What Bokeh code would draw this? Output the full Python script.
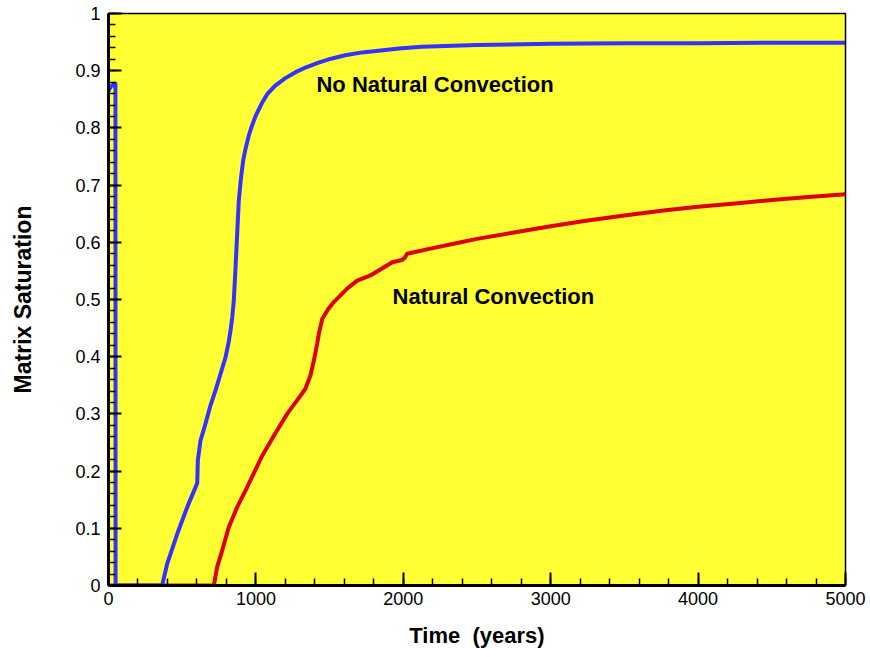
from bokeh.plotting import figure
from bokeh.models import Range1d, FixedTicker, CustomJSTickFormatter, Label
from bokeh.embed import file_html
from bokeh.resources import INLINE

# ---- data ----
blue_time = [0, 15, 40, 47, 48, 364, 398, 466, 534, 602, 606, 624, 658, 692, 726, 760,
             794, 815, 828, 840, 850, 862, 873, 884, 900, 915, 931, 950, 972, 1000, 1040,
             1080, 1131, 1200, 1266, 1340, 1425, 1510, 1606, 1720, 1832, 1970, 2125, 2500,
             3000, 3500, 4000, 4500, 5000]
blue_sat = [0.865, 0.872, 0.877, 0.877, 0.0, 0.0, 0.038, 0.090, 0.137, 0.179, 0.219, 0.253,
            0.283, 0.315, 0.341, 0.370, 0.399, 0.425, 0.446, 0.470, 0.498, 0.556, 0.615,
            0.673, 0.715, 0.745, 0.765, 0.785, 0.803, 0.822, 0.843, 0.860, 0.874, 0.887,
            0.897, 0.906, 0.914, 0.921, 0.927, 0.932, 0.935, 0.939, 0.942, 0.945, 0.947,
            0.948, 0.948, 0.949, 0.949]

red_time = [0, 715, 737, 771, 816, 873, 941, 1043, 1122, 1212, 1303, 1336, 1370, 1393,
            1416, 1427, 1450, 1490, 1530, 1619, 1687, 1777, 1925, 1992, 2010, 2026, 2184,
            2350, 2500, 2750, 3000, 3250, 3500, 3750, 4000, 4250, 4500, 4750, 5000]
red_sat = [0.0, 0.0, 0.032, 0.061, 0.102, 0.137, 0.172, 0.227, 0.262, 0.300, 0.332, 0.344,
           0.367, 0.393, 0.423, 0.440, 0.466, 0.483, 0.496, 0.519, 0.533, 0.542, 0.565,
           0.569, 0.573, 0.580, 0.589, 0.598, 0.606, 0.617, 0.628, 0.638, 0.647, 0.655,
           0.662, 0.668, 0.674, 0.679, 0.684]

x_ticks = [0, 1000, 2000, 3000, 4000, 5000]
y_ticks = [0, 0.1, 0.2, 0.3, 0.4, 0.5, 0.6, 0.7, 0.8, 0.9, 1.0]
x_minor = list(range(0, 5001, 200))
y_minor = [i / 50 for i in range(51)]

label_no_conv = "No Natural Convection"
label_conv = "Natural Convection"

YELLOW = "#FFFF33"
BLUE = "#3333FF"
RED = "#DD0000"
FONT = "Liberation Sans"

p = figure(width=870, height=657, x_range=Range1d(0, 5000), y_range=Range1d(0, 1),
           output_backend="svg", toolbar_location=None,
           min_border_left=108, min_border_right=25, min_border_top=13, min_border_bottom=72)
p.background_fill_color = YELLOW
p.border_fill_color = "white"
p.outline_line_color = "black"
p.outline_line_width = 1.5
p.xgrid.visible = False
p.ygrid.visible = False

p.line(red_time, red_sat, line_color=RED, line_width=4, line_join="round")
p.line(blue_time, blue_sat, line_color=BLUE, line_width=4, line_join="round")

p.xaxis.ticker = FixedTicker(ticks=x_ticks, minor_ticks=x_minor)
p.yaxis.ticker = FixedTicker(ticks=y_ticks, minor_ticks=y_minor)
p.yaxis.formatter = CustomJSTickFormatter(code="return String(Math.round(tick*10)/10);")
p.xaxis.formatter = CustomJSTickFormatter(code="return String(Math.round(tick));")

for ax in (p.xaxis, p.yaxis):
    ax.axis_line_width = 3
    ax.axis_line_color = "black"
    ax.major_tick_in = 13
    ax.major_tick_out = 0
    ax.minor_tick_in = 7
    ax.minor_tick_out = 0
    ax.major_tick_line_width = 2
    ax.minor_tick_line_width = 1.5
    ax.major_tick_line_color = "black"
    ax.minor_tick_line_color = "black"
    ax.major_label_text_font = FONT
    ax.major_label_text_font_size = "18px"
    ax.major_label_text_color = "black"
    ax.axis_label_text_font = FONT
    ax.axis_label_text_font_style = "bold"
    ax.axis_label_text_color = "black"

p.xaxis.axis_label = "Time \u00a0(years)"
p.yaxis.axis_label = "Matrix Saturation"
p.xaxis.axis_label_text_font_size = "22px"
p.yaxis.axis_label_text_font_size = "23px"
p.xaxis.major_label_standoff = 6
p.yaxis.major_label_standoff = 8
p.xaxis.axis_label_standoff = 15
p.yaxis.axis_label_standoff = 36

p.add_layout(Label(x=1411, y=0.876, text=label_no_conv, text_font=FONT,
                   text_font_style="bold", text_font_size="22px", text_baseline="middle",
                   text_color="black"))
p.add_layout(Label(x=1927, y=0.505, text=label_conv, text_font=FONT,
                   text_font_style="bold", text_font_size="22px", text_baseline="middle",
                   text_color="black"))

open("out.html", "w").write(file_html(p, INLINE))
